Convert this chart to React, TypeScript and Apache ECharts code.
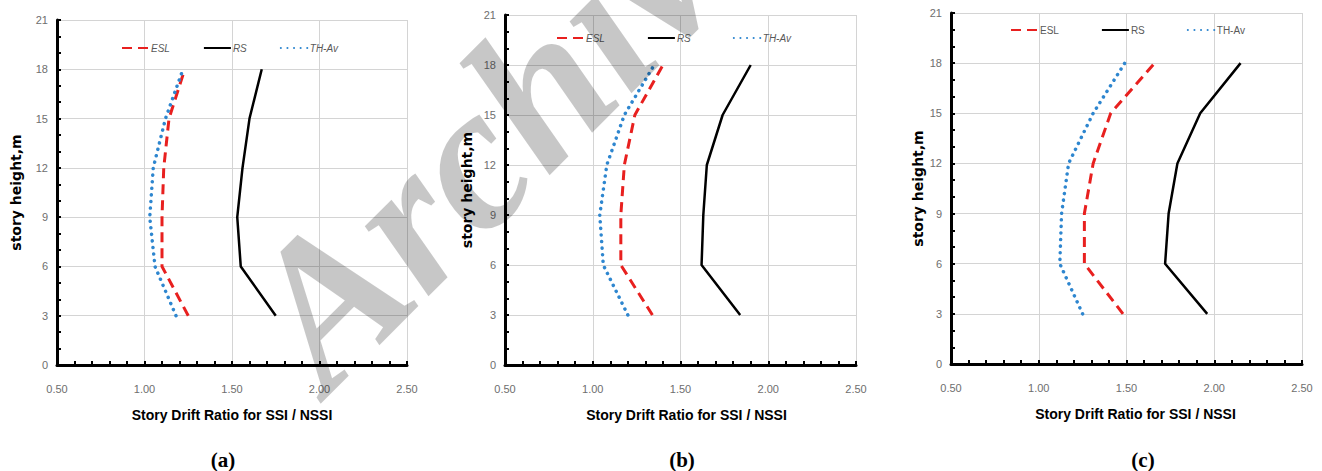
import React, { useEffect, useRef } from 'react';
import * as echarts from 'echarts';

// ---------- data ----------
const heights = [3, 6, 9, 12, 15, 18];
const seriesNames = ['ESL', 'RS', 'TH-Av'];

const eslA = [1.25, 1.10, 1.10, 1.11, 1.14, 1.23];
const rsA = [1.75, 1.55, 1.53, 1.56, 1.60, 1.67];
const thA = [1.18, 1.06, 1.03, 1.05, 1.12, 1.22];

const eslB = [1.34, 1.16, 1.16, 1.18, 1.24, 1.40];
const rsB = [1.84, 1.62, 1.63, 1.65, 1.74, 1.90];
const thB = [1.20, 1.06, 1.04, 1.08, 1.18, 1.35];

const eslC = [1.48, 1.26, 1.26, 1.31, 1.41, 1.66];
const rsC = [1.96, 1.72, 1.74, 1.79, 1.92, 2.15];
const thC = [1.25, 1.12, 1.13, 1.17, 1.31, 1.49];

const panelLabels = ['(a)', '(b)', '(c)'];
const xTitle = 'Story Drift Ratio for SSI / NSSI';
const yTitle = 'story height,m';
const watermark = 'Archive';

// ---------- styles / layout ----------
const SANS = "'Liberation Sans', Arial, sans-serif";
const colors = ['#e8201f', '#000000', '#2e86cf'];
const lineStyles: any[] = [
  { color: colors[0], width: 3, type: [10, 6] },
  { color: colors[1], width: 2.5, type: 'solid' },
  { color: colors[2], width: 3.5, type: [0.1, 6.5], cap: 'round' },
];

const panels = [
  {
    values: [eslA, rsA, thA],
    grid: { left: 57, top: 20, width: 350, height: 345 },
    legend: { left: 121, top: 43, itemGap: 33, italic: true },
    yGap: 34, xPad: 0, labelX: 223,
  },
  {
    values: [eslB, rsB, thB],
    grid: { left: 505, top: 15, width: 351, height: 350 },
    legend: { left: 556, top: 33, itemGap: 42, italic: true },
    yGap: 31, xPad: 12, labelX: 682,
  },
  {
    values: [eslC, rsC, thC],
    grid: { left: 951, top: 13, width: 351, height: 351 },
    legend: { left: 1010, top: 25, itemGap: 42, italic: false },
    yGap: 26, xPad: 18, labelX: 1143,
  },
];

function buildOption() {
  const grid: any[] = [];
  const xAxis: any[] = [];
  const yAxis: any[] = [];
  const series: any[] = [];
  const legend: any[] = [];
  const graphic: any[] = [];

  panels.forEach((p, i) => {
    grid.push({ ...p.grid, containLabel: false });
    xAxis.push({
      type: 'value',
      gridIndex: i,
      min: 0.5,
      max: 2.5,
      interval: 0.5,
      axisLine: { show: true, onZero: false, lineStyle: { color: '#000', width: 3 } },
      axisTick: { show: true, inside: true, length: 4, lineStyle: { color: '#000', width: 2 } },
      minorTick: { show: true, splitNumber: 5, length: 4, lineStyle: { color: '#000', width: 2 } },
      splitLine: { show: true, lineStyle: { color: '#d4d4d4', width: 1 } },
      axisLabel: {
        color: '#6e6e6e',
        fontSize: 11,
        fontFamily: SANS,
        margin: 18,
        formatter: (v: number) => v.toFixed(2),
      },
      name: xTitle,
      nameLocation: 'middle',
      nameGap: 43,
      nameTextStyle: {
        color: '#000',
        fontWeight: 'bold',
        fontSize: 14,
        fontFamily: SANS,
        padding: [0, 0, 0, p.xPad],
      },
    });
    yAxis.push({
      type: 'value',
      gridIndex: i,
      min: 0,
      max: 21,
      interval: 3,
      axisLine: { show: true, onZero: false, lineStyle: { color: '#000', width: 3 } },
      axisTick: { show: true, inside: true, length: 4, lineStyle: { color: '#000', width: 2 } },
      minorTick: { show: true, splitNumber: 3, length: 4, lineStyle: { color: '#000', width: 2 } },
      splitLine: { show: true, lineStyle: { color: '#d4d4d4', width: 1 } },
      axisLabel: { color: '#6e6e6e', fontSize: 11, fontFamily: SANS, margin: 9 },
      name: yTitle,
      nameLocation: 'middle',
      nameGap: p.yGap,
      nameTextStyle: {
        color: '#000',
        fontWeight: 'bold',
        fontSize: 14,
        fontFamily: "'DejaVu Sans', sans-serif",
      },
    });
    seriesNames.forEach((name, s) => {
      series.push({
        type: 'line',
        name,
        xAxisIndex: i,
        yAxisIndex: i,
        data: heights.map((h, k) => [p.values[s][k], h]),
        symbol: 'none',
        showSymbol: false,
        lineStyle: lineStyles[s],
        itemStyle: { color: colors[s] },
        z: 3 + s,
      });
    });
    legend.push({
      left: p.legend.left,
      top: p.legend.top,
      orient: 'horizontal',
      padding: 0,
      itemGap: p.legend.itemGap,
      itemWidth: 27,
      itemHeight: 10,
      data: seriesNames,
      selectedMode: false,
      itemStyle: { opacity: 0, borderWidth: 0 },
      textStyle: {
        color: '#595959',
        fontSize: 10,
        fontFamily: SANS,
        fontStyle: p.legend.italic ? 'italic' : 'normal',
        padding: [0, 0, 0, -3],
      },
    });
    graphic.push({
      type: 'text',
      x: p.labelX,
      y: 460,
      style: {
        text: panelLabels[i],
        font: "bold 21px 'Liberation Serif', serif",
        fill: '#000',
        align: 'center',
        verticalAlign: 'middle',
      },
    });
  });

  graphic.push({
    type: 'text',
    x: 352,
    y: 420,
    rotation: (45 * Math.PI) / 180,
    z: 100,
    silent: true,
    style: {
      text: watermark,
      font: "italic bold 206px 'Liberation Serif', serif",
      fill: '#000',
      opacity: 0.22,
      align: 'left',
      verticalAlign: 'bottom',
    },
  });

  return {
    animation: false,
    backgroundColor: '#ffffff',
    grid,
    xAxis,
    yAxis,
    series,
    legend,
    graphic,
  };
}

export default function App() {
  const ref = useRef<HTMLDivElement>(null);
  useEffect(() => {
    if (!ref.current) return;
    const chart = echarts.init(ref.current, undefined, { renderer: 'svg' });
    chart.setOption(buildOption() as any);
    return () => chart.dispose();
  }, []);
  return (
    <div
      ref={ref}
      style={{ position: 'fixed', left: 0, top: 0, width: 1322, height: 471, background: '#fff' }}
    />
  );
}
